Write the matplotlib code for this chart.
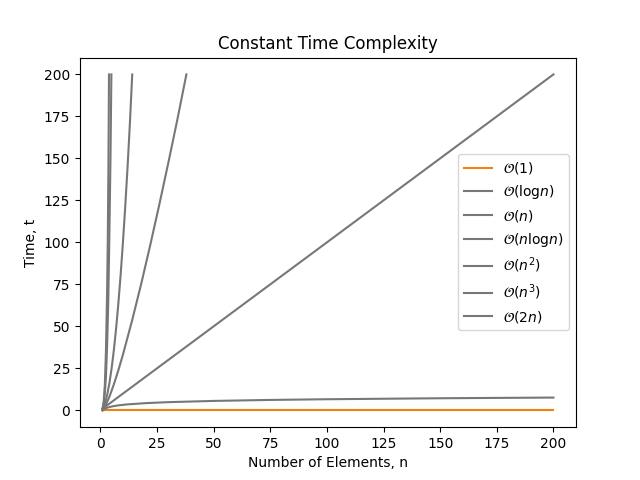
import matplotlib
matplotlib.use("Agg")
import matplotlib.pyplot as plt

# values
const_n = [1, 200]
const_t = [0, 0]

log_n = [1, 2, 3, 5, 8, 12, 20, 30, 50, 75, 100, 150, 200]
log_t = [0, 1.0, 1.58, 2.32, 3.0, 3.58, 4.32, 4.91, 5.64, 6.23, 6.64, 7.23, 7.64]

lin_n = [1, 200]
lin_t = [1, 200]

nlog_n = [1, 2, 4, 6, 8, 10, 14, 18, 22, 26, 30, 34, 38]
nlog_t = [0, 2, 8, 15.5, 24, 33.2, 53.3, 75, 98.1, 122.2, 147.2, 173, 200]

sq_n = [1, 2, 3, 4, 5, 6, 7, 8, 9, 10, 11, 12, 13, 14.1]
sq_t = [1, 4, 9, 16, 25, 36, 49, 64, 81, 100, 121, 144, 169, 200]

cube_n = [1, 1.5, 2, 2.5, 3, 3.5, 4, 4.5, 4.9]
cube_t = [1, 4, 10, 20, 38, 63, 103, 150, 200]

two_n = [1, 1.5, 2, 2.5, 3, 3.3, 3.6, 3.85]
two_t = [1, 5, 15, 35, 70, 100, 145, 200]

labels = [r'$\mathcal{O}(1)$', r'$\mathcal{O}(\mathrm{log}n)$', r'$\mathcal{O}(n)$',
          r'$\mathcal{O}(n\mathrm{log}n)$', r'$\mathcal{O}(n^2)$', r'$\mathcal{O}(n^3)$',
          r'$\mathcal{O}(2n)$']

fig, ax = plt.subplots(figsize=(6.4, 4.8), dpi=100)

highlight = '#f0820f'
grey = '#777777'

ax.plot(const_n, const_t, color=highlight, label=labels[0])
ax.plot(log_n, log_t, color=grey, label=labels[1])
ax.plot(lin_n, lin_t, color=grey, label=labels[2])
ax.plot(nlog_n, nlog_t, color=grey, label=labels[3])
ax.plot(sq_n, sq_t, color=grey, label=labels[4])
ax.plot(cube_n, cube_t, color=grey, label=labels[5])
ax.plot(two_n, two_t, color=grey, label=labels[6])

ax.set_title('Constant Time Complexity')
ax.set_xlabel('Number of Elements, n')
ax.set_ylabel('Time, t')
ax.legend(loc='center right')

plt.savefig('out.png')
